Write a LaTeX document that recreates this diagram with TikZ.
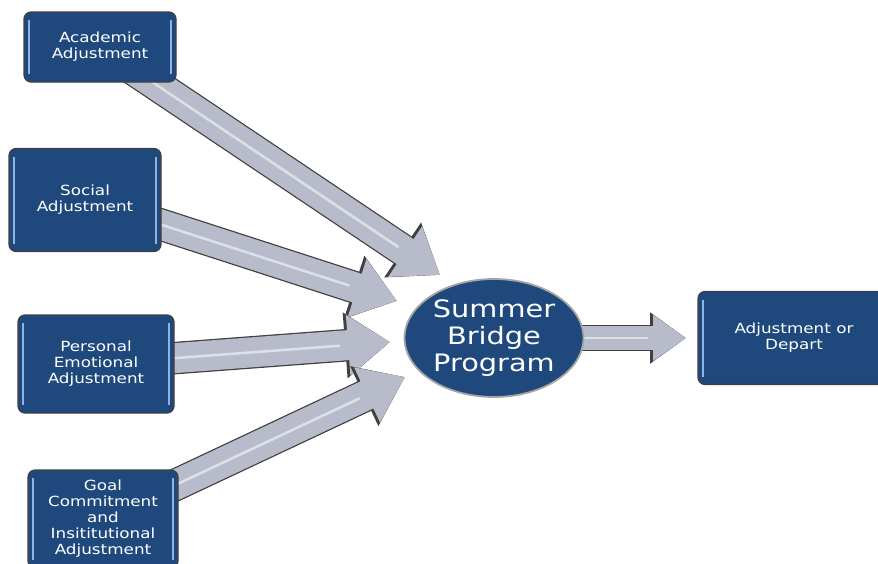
\documentclass[tikz,border=0pt]{standalone}
\usepackage{fontspec}
\setmainfont{DejaVu Sans}[FakeStretch=1.2]
\usetikzlibrary{shapes}
\usetikzlibrary{positioning}
\usetikzlibrary{arrows.meta}
\definecolor{boxblue}{RGB}{31,73,125}
\definecolor{boxrim}{RGB}{142,180,227}
\definecolor{arrowgray}{RGB}{184,188,202}
\pgfdeclarelayer{background}
\pgfsetlayers{background,main}
\tikzset{
    blockbox/.style = {rectangle, rounded corners=7pt, draw=black!75, line width=1.2pt, fill=boxblue, text=white, align=center, inner sep=2pt, font=\fontsize{14}{16}\selectfont,
        path picture={
          \draw[boxrim, line width=1.8pt] ([xshift=5pt,yshift=-8pt]path picture bounding box.north west) -- ([xshift=5pt,yshift=8pt]path picture bounding box.south west);
          \draw[boxrim, line width=1.8pt] ([xshift=-5pt,yshift=-8pt]path picture bounding box.north east) -- ([xshift=-5pt,yshift=8pt]path picture bounding box.south east);
        }},
    bridge/.style = {ellipse, draw=gray!70, line width=1.8pt, fill=boxblue, text=white, align=center, inner sep=0pt, minimum width=179pt, minimum height=118pt, font=\fontsize{24}{27}\selectfont},
    bigarrow/.style = {arrowgray, line width=30pt, -{Triangle[length=42pt,width=58pt]},
        preaction={draw=black!75, line width=32.5pt, -{Triangle[length=45pt,width=63pt]}},
        postaction={draw=white, opacity=0.55, line width=2.5pt, -, shorten >=50pt}},
    outarrow/.style = {arrowgray, line width=24pt, -{Triangle[length=33pt,width=44pt]},
        preaction={draw=black!75, line width=26.5pt, -{Triangle[length=36pt,width=49pt]}},
        postaction={draw=white, opacity=0.55, line width=2.5pt, -, shorten >=38pt}}
}

\begin{document}
\begin{tikzpicture}[x=1pt, y=-1pt]
  \useasboundingbox (0,0) rectangle (878,563);

  \node[blockbox, minimum width=152pt, minimum height=70pt] (acad) at (100,47) {Academic\\Adjustment};
  \node[blockbox, minimum width=152pt, minimum height=103pt] (social) at (85,200) {Social\\Adjustment};
  \node[blockbox, minimum width=156pt, minimum height=98pt] (pers) at (96,364) {Personal\\Emotional\\Adjustment};
  \node[blockbox, minimum width=150pt, minimum height=98pt] (goal) at (103,519) {Goal\\Commitment\\and\\Insititutional\\Adjustment};
  \node[bridge] (sbp) at (494,338) {Summer\\Bridge\\Program};
  \node[blockbox, minimum width=192pt, minimum height=93pt] (out) at (794,338) {Adjustment or\\Depart};

  % arrow tips
  \coordinate (t1) at (440,275);
  \coordinate (t2) at (397,301);
  \coordinate (t3) at (390,342);
  \coordinate (t4) at (405,377);
  \coordinate (t5) at (686,338);

  \begin{pgfonlayer}{background}
    \draw[bigarrow] (acad.center) -- (t1);
    \draw[bigarrow] (social.center) -- (t2);
    \draw[bigarrow] (pers.center) -- (t3);
    \draw[bigarrow] (goal.center) -- (t4);
    \draw[outarrow] (sbp.center) -- (t5);
  \end{pgfonlayer}
\end{tikzpicture}
\end{document}
